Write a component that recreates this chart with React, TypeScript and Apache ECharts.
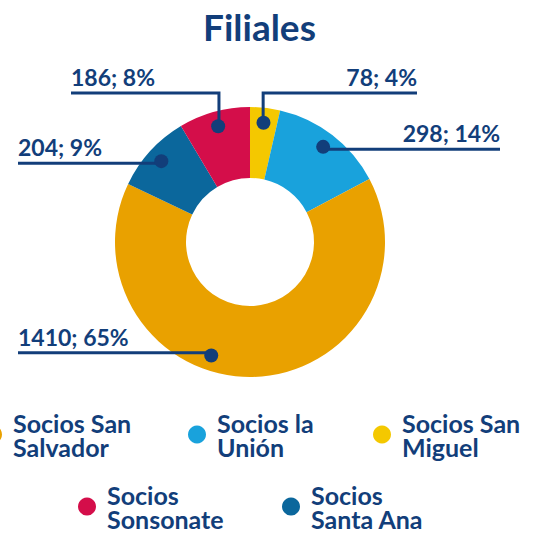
import React, { useEffect, useRef } from "react";
import * as echarts from "echarts";

// ---- data ----
const titleText = "Filiales";
const categories = [
  "Socios San Miguel",
  "Socios la Unión",
  "Socios San Salvador",
  "Socios Santa Ana",
  "Socios Sonsonate",
];
const values = [78, 298, 1410, 204, 186];
const sliceColors = ["#F4C800", "#19A2DC", "#E9A100", "#0B679C", "#D40E4A"];
const legendOrder = [
  "Socios San Salvador",
  "Socios la Unión",
  "Socios San Miguel",
  "Socios Sonsonate",
  "Socios Santa Ana",
];
const legendLines: Record<string, string> = {
  "Socios San Salvador": "Socios San\nSalvador",
  "Socios la Unión": "Socios la\nUnión",
  "Socios San Miguel": "Socios San\nMiguel",
  "Socios Sonsonate": "Socios\nSonsonate",
  "Socios Santa Ana": "Socios\nSanta Ana",
};

// ---- layout / style ----
const W = 539;
const H = 533;
const CX = 250;
const CY = 242;
const R_IN = 64;
const R_OUT = 135;
const R_DOT = 117;
const BOTTOM_SHIFT = (20 * Math.PI) / 180;
const NAVY = "#123E7A";
const FONT = "Lato";
const legendSlots = [
  [-16, 410],
  [188, 410],
  [373, 410],
  [78, 482],
  [282, 482],
];

// Dots of slices whose middle falls at the very bottom are moved toward the lower left.
function placeDot(x: number, y: number): [number, number] {
  if (y > CY + R_DOT * 0.9) {
    const r = Math.hypot(x - CX, y - CY);
    const a = Math.atan2(y - CY, x - CX) + BOTTOM_SHIFT;
    return [CX + r * Math.cos(a), CY + r * Math.sin(a)];
  }
  return [x, y];
}

export default function App() {
  const ref = useRef<HTMLDivElement>(null);

  useEffect(() => {
    if (!ref.current) return;
    const chart = echarts.init(ref.current, undefined, { renderer: "svg" });

    const ringData = categories.map((name, i) => ({
      name,
      value: values[i],
      itemStyle: { color: sliceColors[i] },
    }));
    const ghostData = categories.map((name, i) => ({
      name,
      value: values[i],
      itemStyle: { color: "rgba(0,0,0,0)" },
    }));

    const legends = legendOrder.map((name, i) => ({
      data: [name],
      left: legendSlots[i][0],
      top: legendSlots[i][1],
      icon: "circle",
      itemWidth: 30,
      itemHeight: 18,
      padding: 0,
      selectedMode: false,
      formatter: (n: string) => legendLines[n] || n,
      textStyle: {
        fontSize: 25,
        lineHeight: 24,
        fontWeight: "bold",
        fontFamily: FONT,
        color: NAVY,
      },
    }));

    chart.setOption({
      animation: false,
      title: {
        text: titleText,
        left: 203,
        top: 8,
        padding: 0,
        textStyle: {
          fontSize: 37,
          fontWeight: "bold",
          fontFamily: FONT,
          color: NAVY,
        },
      },
      legend: legends,
      series: [
        {
          type: "pie",
          name: "ring",
          center: [CX, CY],
          radius: [R_IN, R_OUT],
          startAngle: 90,
          clockwise: true,
          silent: true,
          z: 1,
          data: ringData,
          label: { show: false },
          labelLine: { show: false },
          emphasis: { disabled: true },
        },
        {
          type: "pie",
          name: "labels",
          center: [CX, CY],
          radius: [0, R_DOT],
          startAngle: 90,
          clockwise: true,
          silent: true,
          z: 2,
          percentPrecision: 0,
          avoidLabelOverlap: false,
          data: ghostData,
          label: {
            show: true,
            position: "outside",
            formatter: (p: any) => `${p.value}; ${p.percent}%`,
            fontSize: 23,
            lineHeight: 22,
            fontWeight: "bold",
            fontFamily: FONT,
            color: NAVY,
          },
          labelLine: {
            show: true,
            length: 10,
            length2: 10,
            lineStyle: { color: NAVY, width: 3 },
          },
          labelLayout: (p: any) => {
            const pts = p.labelLinePoints;
            if (!pts || !pts.length) return {};
            const [sx, sy] = placeDot(pts[0][0], pts[0][1]);
            const right = sx >= CX;
            const top = sy < CY - R_DOT * 0.85;
            const lineY = top ? CY - R_OUT - 14 : sy;
            const endX = top
              ? right
                ? CX + 167
                : CX - 179
              : right
              ? W - 39
              : 18;
            return {
              x: endX,
              y: lineY - 5,
              align: right ? "right" : "left",
              verticalAlign: "bottom",
              labelLinePoints: [
                [sx, sy],
                [sx, lineY],
                [endX, lineY],
              ],
            };
          },
          emphasis: { disabled: true },
        },
        {
          type: "pie",
          name: "dots",
          center: [CX, CY],
          radius: [R_DOT - 6, R_DOT + 6],
          startAngle: 90,
          clockwise: true,
          silent: true,
          z: 3,
          data: ghostData,
          label: {
            show: true,
            position: "inside",
            formatter: " ",
            width: 14,
            height: 14,
            lineHeight: 14,
            fontSize: 1,
            padding: 0,
            borderRadius: 7,
            backgroundColor: NAVY,
          },
          labelLine: { show: false },
          labelLayout: (p: any) => {
            const r = p.labelRect;
            if (!r) return {};
            const x = r.x + r.width / 2;
            const y = r.y + r.height / 2;
            const [nx, ny] = placeDot(x, y);
            if (nx === x && ny === y) return {};
            return { x: nx, y: ny, align: "center", verticalAlign: "middle" };
          },
          emphasis: { disabled: true },
        },
      ],
    });

    return () => chart.dispose();
  }, []);

  return (
    <div
      ref={ref}
      style={{ position: "absolute", left: 0, top: 0, width: W, height: H }}
    />
  );
}
